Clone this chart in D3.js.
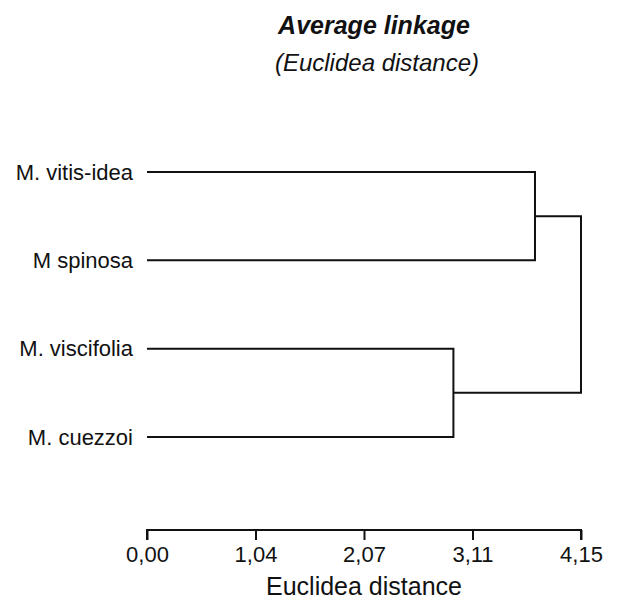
<!DOCTYPE html>
<html>
<head>
<meta charset="utf-8">
<script src="https://cdn.jsdelivr.net/npm/d3@7"></script>
<style>
  html, body { margin: 0; padding: 0; background: #fff; }
  svg { display: block; }
  text { font-family: "Liberation Sans", Arial, sans-serif; fill: #111; }
</style>
</head>
<body>
<div id="chart"></div>
<script>
// Leaves, top to bottom
const leaves = ['M. vitis-idea', 'M spinosa', 'M. viscifolia', 'M. cuezzoi'];

// Merges: children are leaf names or merge ids, h = linkage distance
const merges = [
  { id: 'c1', a: 'M. vitis-idea', b: 'M spinosa', h: 3.71 },
  { id: 'c2', a: 'M. viscifolia', b: 'M. cuezzoi', h: 2.93 },
  { id: 'root', a: 'c1', b: 'c2', h: 4.15 }
];

const tickVals = [0, 1.0375, 2.075, 3.1125, 4.15];
const tickLabels = ['0,00', '1,04', '2,07', '3,11', '4,15'];

const W = 628, H = 604;
const svg = d3.select('#chart').append('svg')
  .attr('width', W)
  .attr('height', H);

const x = d3.scaleLinear().domain([0, 4.15]).range([147, 581]);
const y = d3.scalePoint().domain(leaves).range([172, 437]);

// Titles
svg.append('text')
  .attr('x', 374).attr('y', 34)
  .attr('text-anchor', 'middle')
  .style('font-size', '25px')
  .style('font-weight', 'bold')
  .style('font-style', 'italic')
  .text('Average linkage');

svg.append('text')
  .attr('x', 377).attr('y', 71)
  .attr('text-anchor', 'middle')
  .style('font-size', '24px')
  .style('font-style', 'italic')
  .text('(Euclidea distance)');

// position lookups
const pos = {};
leaves.forEach(l => { pos[l] = { x: 0, y: y(l) }; });
merges.forEach(m => {
  pos[m.id] = { x: m.h, y: (pos[m.a].y + pos[m.b].y) / 2 };
});

const g = svg.append('g')
  .attr('fill', 'none')
  .attr('stroke', '#111')
  .attr('stroke-width', 2);

merges.forEach(m => {
  const A = pos[m.a], B = pos[m.b];
  const path = d3.path();
  path.moveTo(x(A.x), A.y);
  path.lineTo(x(m.h), A.y);
  path.lineTo(x(m.h), B.y);
  path.lineTo(x(B.x), B.y);
  g.append('path').attr('d', path.toString());
});

// leaf labels
svg.append('g')
  .selectAll('text')
  .data(leaves)
  .join('text')
  .attr('x', 133)
  .attr('y', d => y(d))
  .attr('dy', '0.35em')
  .attr('text-anchor', 'end')
  .style('font-size', '22px')
  .text(d => d);

// axis
const axis = d3.axisBottom(x)
  .tickValues(tickVals)
  .tickSize(10)
  .tickPadding(6)
  .tickSizeOuter(0)
  .tickFormat((d, i) => tickLabels[i]);

const ax = svg.append('g')
  .attr('transform', 'translate(0,530)')
  .call(axis);

ax.select('.domain').attr('stroke', '#111').attr('stroke-width', 2)
  .attr('d', `M${x(0)},10V0H${x(4.15)}V10`);
ax.selectAll('.tick line').attr('stroke', '#111').attr('stroke-width', 2);
ax.selectAll('.tick text')
  .style('font-family', '"Liberation Sans", Arial, sans-serif')
  .style('font-size', '22px')
  .attr('fill', '#111');

svg.append('text')
  .attr('x', 364).attr('y', 595)
  .attr('text-anchor', 'middle')
  .style('font-size', '25px')
  .text('Euclidea distance');
</script>
</body>
</html>
